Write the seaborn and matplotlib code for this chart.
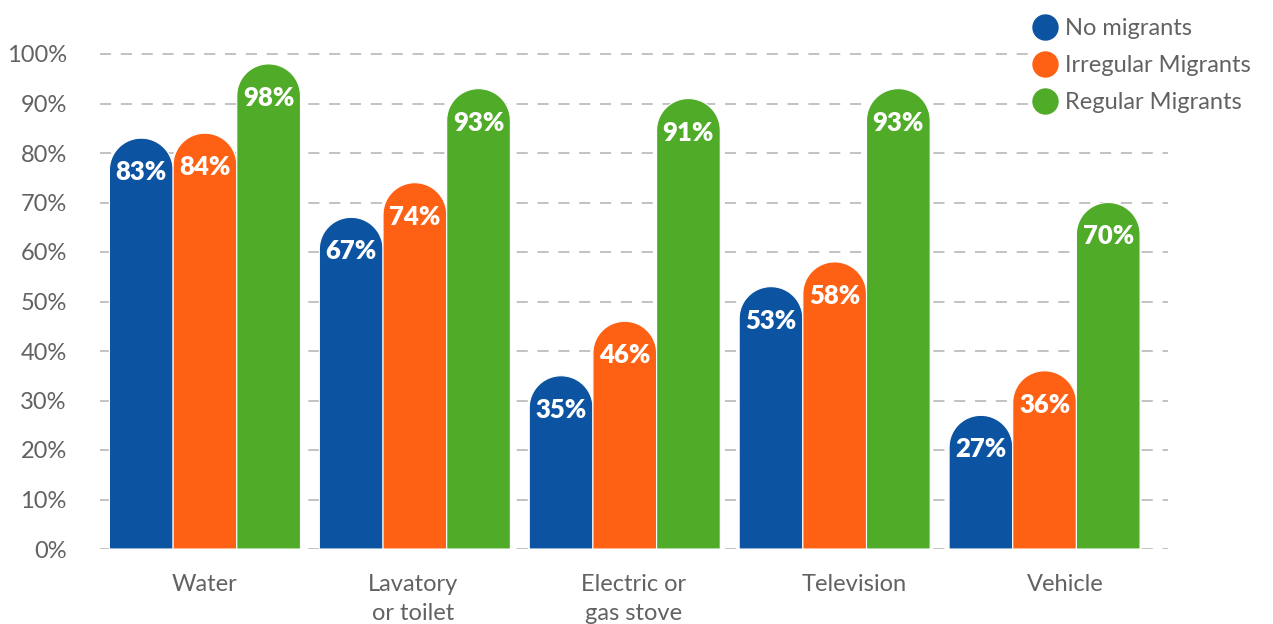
import numpy as np
import pandas as pd
import matplotlib
matplotlib.use("Agg")
import matplotlib.pyplot as plt
import matplotlib.transforms as mtransforms
from matplotlib.path import Path
from matplotlib.patches import PathPatch
from matplotlib.lines import Line2D
from matplotlib.ticker import FuncFormatter
import seaborn as sns

# Household amenities by migration status (% of households)
categories = ["Water", "Lavatory\nor toilet", "Electric or\ngas stove", "Television", "Vehicle"]
series_names = ["No migrants", "Irregular Migrants", "Regular Migrants"]
no_migrants = [83, 67, 35, 53, 27]
irregular_migrants = [84, 74, 46, 58, 36]
regular_migrants = [98, 93, 91, 93, 70]
y_ticks = [0, 10, 20, 30, 40, 50, 60, 70, 80, 90, 100]

colors = ["#0C53A1", "#FF6114", "#4FAB28"]
text_grey = "#626262"

df = pd.DataFrame({
    "category": categories * 3,
    "group": sum([[n] * len(categories) for n in series_names], []),
    "value": no_migrants + irregular_migrants + regular_migrants,
})

sns.set_theme(style="white")
plt.rcParams["font.family"] = ["Lato", "DejaVu Sans"]
plt.rcParams["lines.scale_dashes"] = False

W, H, DPI = 1273, 624, 100
fig = plt.figure(figsize=(W / DPI, H / DPI), dpi=DPI)
ax = fig.add_axes([100 / W, (H - 549) / H, 1068 / W, (549 - 29.25) / H])

sns.barplot(data=df, x="category", y="value", hue="group", order=categories,
            hue_order=series_names, palette=colors, width=0.91, gap=0,
            saturation=1, legend=False, ax=ax, errorbar=None)

ax.set_xlim(-0.5, 4.588)
ax.set_ylim(0, 105)

# pixel scale of the data coordinates
p0 = ax.transData.transform((0, 0))
p1 = ax.transData.transform((1, 1))
px_x = p1[0] - p0[0]
px_y = p1[1] - p0[1]

# Replace the flat bars with round-topped ones
theta = np.linspace(np.pi, 0, 40)
for container in ax.containers:
    for bar in container.patches:
        x0 = bar.get_x()
        w = bar.get_width()
        h = bar.get_height()
        fc = bar.get_facecolor()
        bar.set_visible(False)
        rx = w / 2
        ry = (w * px_x / 2) / px_y
        cx = x0 + rx
        base = max(h - ry, 0)
        verts = [(x0, 0), (x0, base)]
        verts += [(cx + rx * np.cos(t), base + ry * np.sin(t)) for t in theta]
        verts += [(x0 + w, 0), (x0, 0)]
        codes = [Path.MOVETO] + [Path.LINETO] * (len(verts) - 2) + [Path.CLOSEPOLY]
        ax.add_patch(PathPatch(Path(verts, codes), facecolor=fc,
                               edgecolor="white", linewidth=0.8, zorder=2))
        ax.text(cx, h - 34 / px_y, f"{h:.0f}%", ha="center", va="center",
                color="white", fontsize=18.5, fontweight="heavy", zorder=3)

# Dashed horizontal grid
ax.set_yticks(y_ticks)
ax.yaxis.set_major_formatter(FuncFormatter(lambda v, _: f"{v:.0f}%"))
ax.grid(axis="y", color="#bdbdbd", linewidth=1.3, linestyle=(0, (8, 7)))
ax.grid(axis="x", visible=False)
ax.set_axisbelow(True)
for s in ax.spines.values():
    s.set_visible(False)

ax.tick_params(axis="y", length=0, pad=24, labelsize=17, labelcolor=text_grey)
ax.tick_params(axis="x", length=0, pad=18, labelsize=17, labelcolor=text_grey)
label_shift_px = [0, -2, 9, 20, 21]
for lbl, dx in zip(ax.get_xticklabels(), label_shift_px):
    lbl.set_linespacing(1.45)
    lbl.set_verticalalignment("top")
    lbl.set_transform(lbl.get_transform() +
                      mtransforms.ScaledTranslation(dx / DPI, 0, fig.dpi_scale_trans))
ax.set_xlabel("")
ax.set_ylabel("")

handles = [Line2D([], [], marker="o", linestyle="none", markersize=18,
                  markerfacecolor=c, markeredgecolor=c) for c in colors]
leg = fig.legend(handles, series_names, loc="upper left",
                 bbox_to_anchor=(1019 / W, 1 - 6 / H), frameon=True,
                 fancybox=False, framealpha=1, facecolor="white", edgecolor="white",
                 fontsize=17, labelcolor=text_grey, handletextpad=0.25,
                 labelspacing=0.68, borderpad=0, handlelength=1.2)
leg.get_frame().set_linewidth(0)

fig.savefig("out.png", dpi=DPI)
